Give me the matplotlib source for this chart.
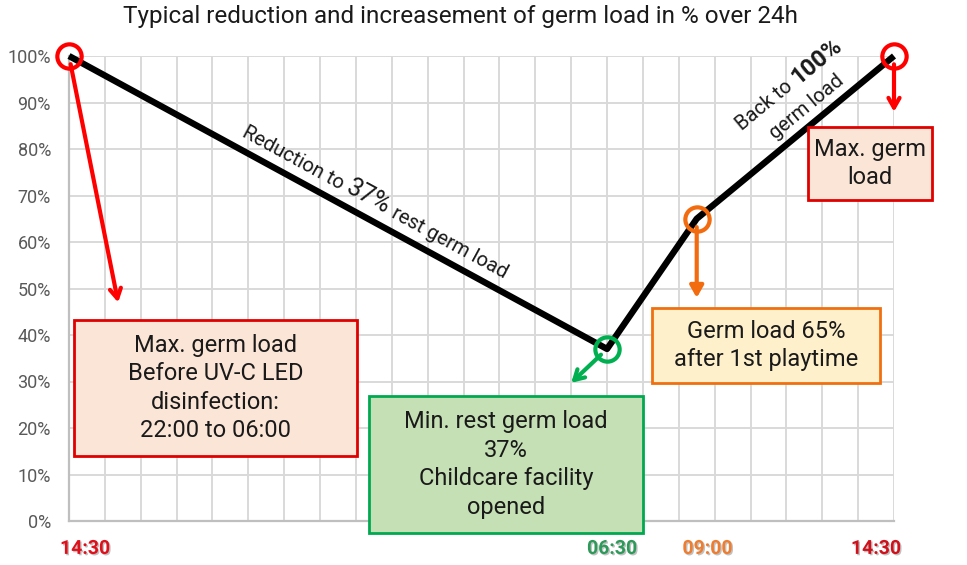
import numpy as np
import matplotlib
matplotlib.use("Agg")
import matplotlib.pyplot as plt
import matplotlib.patheffects as pe
from matplotlib.patches import Rectangle
from matplotlib.transforms import offset_copy

# ============================================================
# DATA
# ============================================================

hours = [0, 15, 17.5, 23]          # hours after 14:30 (hourly grid)
germ_load = [100, 37, 65, 100]     # germ load in %
point_colors = ["#FF0000", "#00B050", "#F26B0F", "#FF0000"]
time_labels = ["14:30", "06:30", "09:00", "14:30"]
label_colors = ["#E0101A", "#2E9A5A", "#ED7D31", "#D0101A"]

y_ticks = np.arange(0, 101, 10)
y_tick_labels = [f"{v}%" for v in y_ticks]

box_texts = [
    "Max. germ load\nBefore UV-C LED\ndisinfection:\n22:00 to 06:00",
    "Min. rest germ load\n37%\nChildcare facility\nopened",
    "Germ load 65%\nafter 1st playtime",
    "Max. germ\nload",
]
box_faces = ["#FBE5D6", "#C5E0B4", "#FFF0CC", "#FBE5D6"]
box_edges = ["#E00000", "#00A850", "#F07010", "#E00000"]

plt.rcParams["font.family"] = ["Roboto", "DejaVu Sans"]

# ============================================================
# FIGURE
# ============================================================

fig = plt.figure(figsize=(9.67, 5.65), dpi=100)
ax = fig.add_axes([69 / 967, 44 / 565, 825 / 967, 465 / 565])

ax.set_xlim(0, 23)
ax.set_ylim(0, 100)
ax.set_xticks(np.arange(0, 24, 1))
ax.set_xticklabels([])
ax.set_yticks(y_ticks)
ax.set_yticklabels(y_tick_labels, color="#595959", fontsize=13)
ax.tick_params(length=0, pad=13)
ax.tick_params(axis="x", pad=0)
ax.grid(True, color="#D9D9D9", linewidth=1.4)
ax.set_axisbelow(True)
for side in ["top", "right"]:
    ax.spines[side].set_visible(False)
for side in ["left", "bottom"]:
    ax.spines[side].set_color("#BFBFBF")
    ax.spines[side].set_linewidth(1.6)

fig.text(0.476, 0.970, "Typical reduction and increasement of germ load in % over 24h",
         ha="center", va="center", fontsize=17.5, color="#1a1a1a")

# main curve
ax.plot(hours, germ_load, color="black", linewidth=4.6, solid_capstyle="butt",
        zorder=4, clip_on=False)
for x, y, c in zip(hours, germ_load, point_colors):
    ax.plot(x, y, marker="o", markersize=17.5, markerfacecolor="none",
            markeredgecolor=c, markeredgewidth=3, zorder=5, clip_on=False)

# time labels under the axis
label_nudge = [0.45, 0.14, 0.3, -0.5]
shadow = [pe.SimplePatchShadow(offset=(1, -1), shadow_rgbFace="#999999", alpha=0.6),
          pe.Normal()]
for x, lab, c, dx in zip(hours, time_labels, label_colors, label_nudge):
    ax.text(x + dx, -6, lab, ha="center", va="center", fontsize=14,
            fontweight="bold", color=c, path_effects=shadow, clip_on=False)

# ============================================================
# ANNOTATION BOXES AND ARROWS
# ============================================================

# (x0, x1, y0, y1) in data units
box_extents = [
    (0.14, 8.03, 14.0, 43.2),
    (8.36, 16.0, -2.6, 26.9),
    (16.25, 22.61, 29.7, 45.8),
    (20.6, 24.06, 69.0, 84.7),
]
for (x0, x1, y0, y1), txt, fc, ec in zip(box_extents, box_texts, box_faces, box_edges):
    ax.add_patch(Rectangle((x0, y0), x1 - x0, y1 - y0, facecolor=fc,
                           edgecolor=ec, linewidth=2, zorder=6, clip_on=False))
    ax.text((x0 + x1) / 2, (y0 + y1) / 2, txt, ha="center", va="center",
            fontsize=17, linespacing=1.3, color="#1a1a1a", zorder=7,
            clip_on=False)

arrow_tips = [(1.37, 47.0), (14.0, 29.7), (17.5, 48.0), (23.0, 88.0)]
arrow_styles = ["->", "->", "-|>", "->"]
for x, y, tip, st, c in zip(hours, germ_load, arrow_tips, arrow_styles, point_colors):
    ax.annotate("", xy=tip, xytext=(x, y),
                arrowprops=dict(arrowstyle=st + ",head_length=0.7,head_width=0.4",
                                color=c, linewidth=3, shrinkA=6, shrinkB=0),
                zorder=6, annotation_clip=False)

# ============================================================
# TEXT ALONG THE CURVE
# ============================================================

fig.canvas.draw()
renderer = fig.canvas.get_renderer()


def text_along(i0, i1, frac, perp, pieces):
    p0 = ax.transData.transform((hours[i0], germ_load[i0]))
    p1 = ax.transData.transform((hours[i1], germ_load[i1]))
    d = (p1 - p0) / np.hypot(*(p1 - p0))
    n = np.array([-d[1], d[0]])
    angle = np.degrees(np.arctan2(d[1], d[0]))
    widths = []
    for s, size, weight in pieces:
        t = fig.text(0, 0, s, fontsize=size, fontweight=weight)
        widths.append(t.get_window_extent(renderer).width)
        t.remove()
    anchor = (np.array([hours[i0], germ_load[i0]]) * (1 - frac)
              + np.array([hours[i1], germ_load[i1]]) * frac)
    pos = -sum(widths) / 2
    for (s, size, weight), w in zip(pieces, widths):
        off = d * (pos + w / 2) + n * perp
        tr = offset_copy(ax.transData, fig=fig, x=off[0], y=off[1], units="dots")
        ax.text(anchor[0], anchor[1], s, transform=tr, fontsize=size,
                fontweight=weight, rotation=angle, rotation_mode="anchor",
                ha="center", va="baseline", color="#1a1a1a", zorder=7)
        pos += w


text_along(0, 1, 0.553, 12,
           [("Reduction to ", 14.5, "normal"), ("37%", 18, "normal"),
            (" rest germ load", 14.5, "normal")])
text_along(2, 3, 0.61, 39,
           [("Back to ", 14.5, "normal"), ("100%", 17, "bold")])
text_along(2, 3, 0.61, 11,
           [("germ load", 14.5, "normal")])

fig.savefig("out.png", dpi=100)
